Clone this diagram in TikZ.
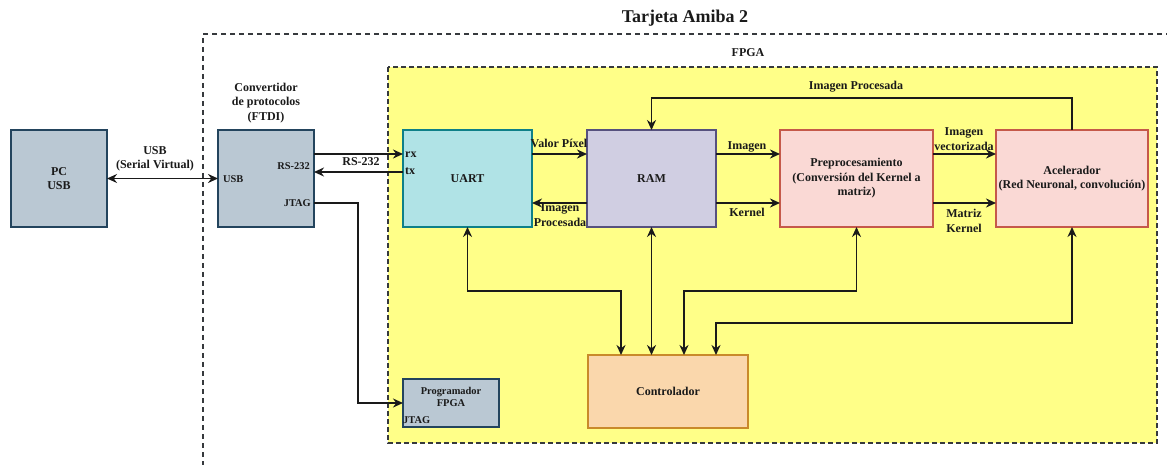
\documentclass[tikz,border=0pt]{standalone}
\usepackage{fontspec}
\setmainfont{Liberation Serif}
\usetikzlibrary{arrows.meta,calc}

\definecolor{slatefill}{HTML}{BAC8D3}
\definecolor{slateline}{HTML}{23445D}
\definecolor{tealfill}{HTML}{B0E3E6}
\definecolor{tealline}{HTML}{0E8088}
\definecolor{lilacfill}{HTML}{D0CEE2}
\definecolor{lilacline}{HTML}{56517E}
\definecolor{rosefill}{HTML}{FAD9D5}
\definecolor{roseline}{HTML}{C5594A}
\definecolor{peachfill}{HTML}{FAD7AC}
\definecolor{peachline}{HTML}{C98A2B}
\definecolor{fpgafill}{HTML}{FFFF88}
\definecolor{fpgaline}{HTML}{36393D}
\definecolor{ink}{HTML}{1A1A1A}

\tikzset{
  block/.style={draw, line width=1.6pt, outer sep=0pt, inner sep=2pt,
    align=center, text=ink, font=\bfseries\fontsize{12}{14.5}\selectfont},
  lbl/.style={text=ink, align=center, inner sep=0pt,
    font=\bfseries\fontsize{12}{14.5}\selectfont},
  small/.style={text=ink, align=center, inner sep=0pt,
    font=\bfseries\fontsize{10.4}{12.5}\selectfont},
  arr/.style={draw=ink, line width=1.7pt, -{Stealth[length=10pt,width=9pt]}},
  arrb/.style={draw=ink, line width=1.7pt,
    {Stealth[length=10pt,width=9pt]}-{Stealth[length=10pt,width=9pt]}},
}

\begin{document}
\begin{tikzpicture}[x=1pt,y=-1pt]
\useasboundingbox (0,0) rectangle (1167,465);

% board outline (runs past the right and bottom edges)
\draw[fpgaline, line width=1.4pt, dash pattern=on 5pt off 4pt]
  (1180,34) -- (203,34) -- (203,480);
\node[lbl, font=\bfseries\fontsize{18}{20}\selectfont] (title) at (685,18) {Tarjeta Amiba 2};

% FPGA area
\draw[fill=fpgafill, draw=fpgaline, line width=1.2pt, dash pattern=on 5pt off 3pt]
  (388,67) rectangle (1157,443);
\node[lbl] (fpgalbl) at (748,53) {FPGA};

% blocks
\node[block, fill=slatefill, draw=slateline, minimum width=96pt, minimum height=97pt]
  (pc) at (59,178.5) {PC\\USB};
\node[block, fill=slatefill, draw=slateline, minimum width=96pt, minimum height=97pt]
  (conv) at (266,178.5) {};
\node[lbl] (convlbl) at (266,103) {Convertidor\\de protocolos\\(FTDI)};
\node[small, anchor=west] (convusb) at ($(conv.west)+(5,1)$) {USB};
\node[small, anchor=east] (convrs) at ($(conv.north east)+(-4,36)$) {RS-232};
\node[small, anchor=east] (convjtag) at ($(conv.north east)+(-3,73)$) {JTAG};

\node[block, fill=tealfill, draw=tealline, minimum width=129pt, minimum height=97pt]
  (uart) at (467.5,178.5) {UART};
\node[lbl, anchor=west] (rx) at ($(uart.north west)+(2,25)$) {rx};
\node[lbl, anchor=west] (tx) at ($(uart.north west)+(2,41)$) {tx};

\node[block, fill=lilacfill, draw=lilacline, minimum width=129pt, minimum height=97pt]
  (ram) at (651.5,178.5) {RAM};
\node[block, fill=rosefill, draw=roseline, minimum width=153pt, minimum height=97pt]
  (pre) at (856.5,178.5) {Preprocesamiento\\(Conversión del Kernel a\\matriz)};
\node[block, fill=rosefill, draw=roseline, minimum width=152pt, minimum height=97pt]
  (acel) at (1072,178.5) {Acelerador\\(Red Neuronal, convolución)};
\node[block, fill=peachfill, draw=peachline, minimum width=160pt, minimum height=73pt]
  (ctrl) at (668,391.5) {Controlador};
\node[block, fill=slatefill, draw=slateline, minimum width=96pt, minimum height=48pt]
  (prog) at (451,403) {};
\node[small] (proglbl) at (451,397) {Programador\\FPGA};
\node[small, anchor=west] (progjtag) at ($(prog.west)+(0,17)$) {JTAG};

% PC <-> converter
\draw[arrb] (pc.east) -- (conv.west);
\node[lbl] (usblbl) at (155,159) {USB\\(Serial Virtual)};

% converter <-> UART serial lines
\draw[arr] ($(conv.north east)+(0,24)$) -- ($(uart.north west)+(0,24)$);
\draw[arr] ($(uart.north west)+(0,42)$) -- ($(conv.north east)+(0,42)$);
\node[lbl] (rslbl) at (361,162) {RS-232};

% converter JTAG -> programmer
\draw[arr] ($(conv.north east)+(0,73)$) -- ++(44,0) |- (prog.west);

% UART <-> RAM
\draw[arr] ($(uart.north east)+(0,24)$) -- ($(ram.north west)+(0,24)$);
\node[lbl] (pixlbl) at (559,143) {Valor Píxel};
\draw[arr] ($(ram.north west)+(0,73)$) -- ($(uart.north east)+(0,73)$);
\node[lbl] (procl) at (560,215) {Imagen\\Procesada};

% RAM -> preprocessing
\draw[arr] ($(ram.north east)+(0,24)$) -- ($(pre.north west)+(0,24)$);
\node[lbl] (imglbl) at (747,147) {Imagen};
\draw[arr] ($(ram.north east)+(0,73)$) -- ($(pre.north west)+(0,73)$);
\node[lbl] (kerlbl) at (747,212) {Kernel};

% preprocessing -> accelerator
\draw[arr] ($(pre.north east)+(0,24)$) -- ($(acel.north west)+(0,24)$);
\node[lbl] (veclbl) at (964,139) {Imagen\\vectorizada};
\draw[arr] ($(pre.north east)+(0,73)$) -- ($(acel.north west)+(0,73)$);
\node[lbl] (matlbl) at (964,221) {Matriz\\Kernel};

% accelerator result back to RAM
\draw[arr] (acel.north) -- ++(0,-32) -| (ram.north);
\node[lbl] (retlbl) at (856,87) {Imagen Procesada};

% controller links
\draw[arrb] (uart.south) -- ++(0,64) -| ($(ctrl.north west)+(33,0)$);
\draw[arrb] (ram.south) -- (ram.south |- ctrl.north);
\draw[arrb] (pre.south) -- ++(0,64) -| ($(ctrl.north west)+(96,0)$);
\draw[arrb] (acel.south) -- ++(0,96) -| ($(ctrl.north west)+(128,0)$);
\end{tikzpicture}
\end{document}
